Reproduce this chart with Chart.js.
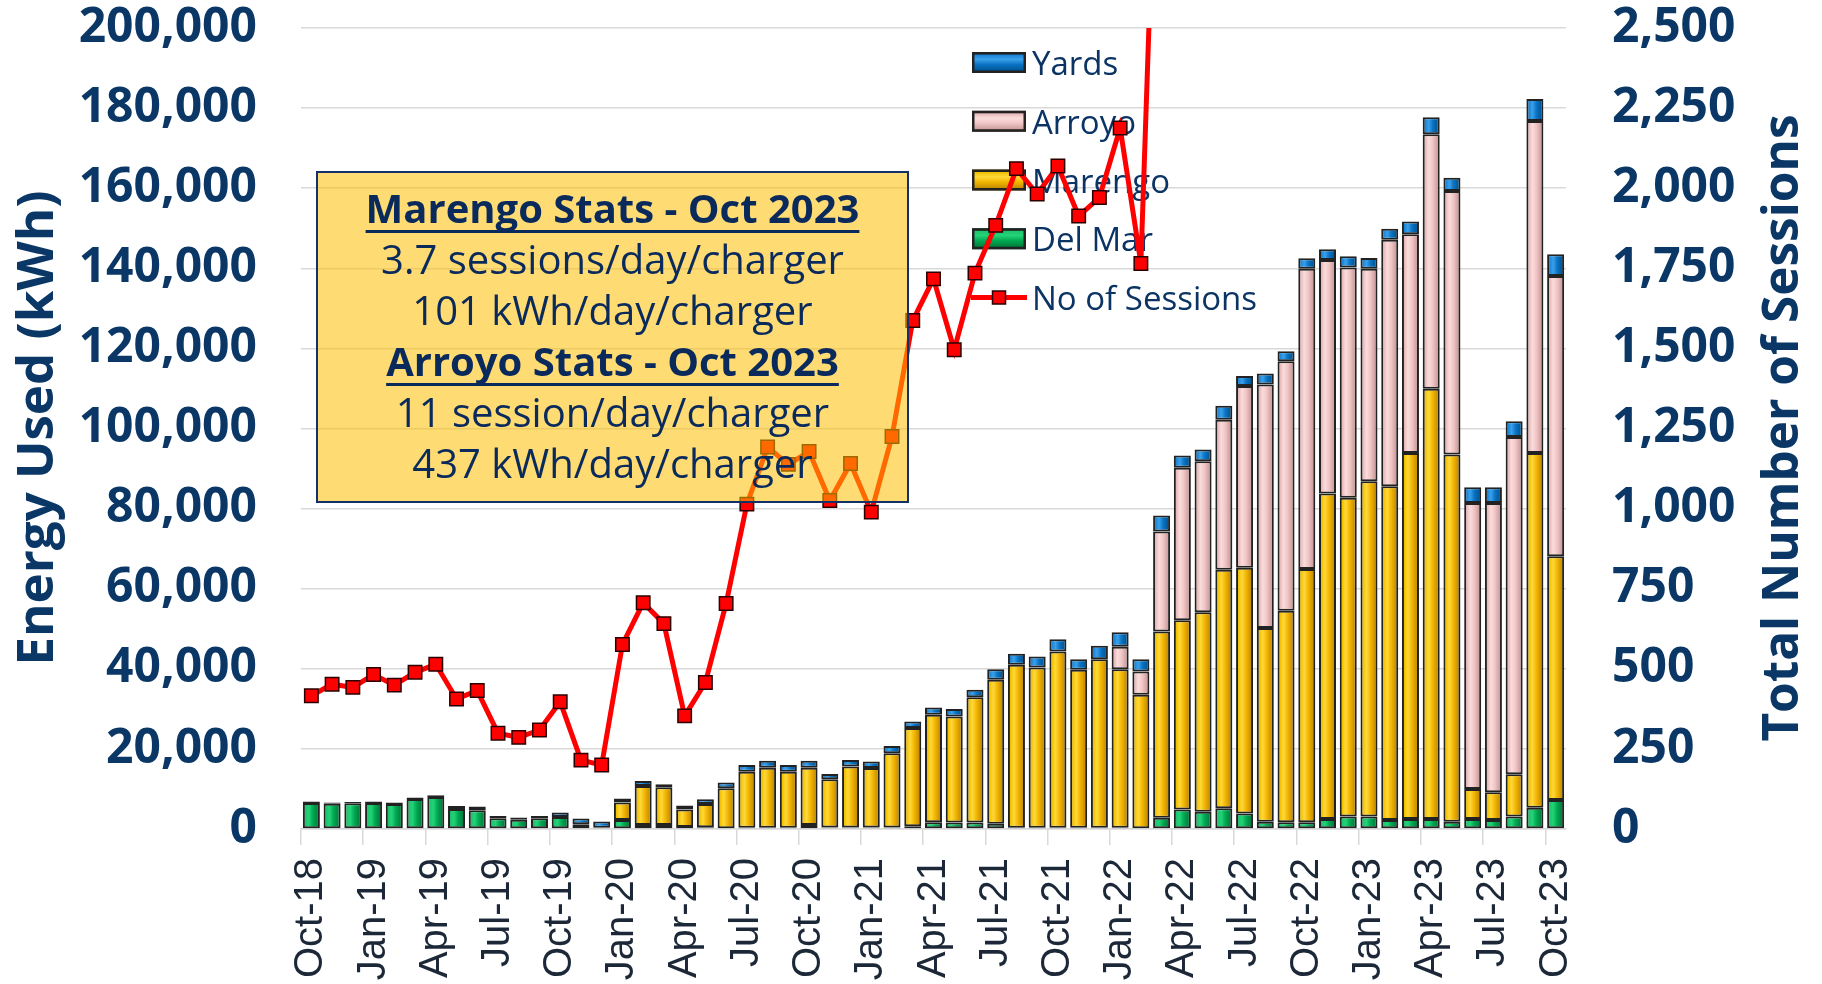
<!DOCTYPE html>
<html>
<head>
<meta charset="utf-8">
<script src="https://cdn.jsdelivr.net/npm/chart.js@4.4.1/dist/chart.umd.min.js"></script>
<style>
html,body{margin:0;padding:0;background:#ffffff;}
#wrap{position:relative;width:1822px;height:984px;}
</style>
</head>
<body>
<div id="wrap"><canvas id="c" width="1822" height="984"></canvas></div>
<script>
// ---------------- DATA ----------------
const months = [
  'Oct-18','Nov-18','Dec-18','Jan-19','Feb-19','Mar-19','Apr-19','May-19','Jun-19','Jul-19','Aug-19','Sep-19',
  'Oct-19','Nov-19','Dec-19','Jan-20','Feb-20','Mar-20','Apr-20','May-20','Jun-20','Jul-20','Aug-20','Sep-20',
  'Oct-20','Nov-20','Dec-20','Jan-21','Feb-21','Mar-21','Apr-21','May-21','Jun-21','Jul-21','Aug-21','Sep-21',
  'Oct-21','Nov-21','Dec-21','Jan-22','Feb-22','Mar-22','Apr-22','May-22','Jun-22','Jul-22','Aug-22','Sep-22',
  'Oct-22','Nov-22','Dec-22','Jan-23','Feb-23','Mar-23','Apr-23','May-23','Jun-23','Jul-23','Aug-23','Sep-23',
  'Oct-23'
];
const delMar = [
  6500,6300,6400,6500,6250,7500,8000,5000,4700,2700,2300,2700,
  3000,1200,300,2250,1000,1000,500,450,200,300,300,300,
  1000,400,400,400,400,700,1700,1600,1600,1300,300,300,
  300,300,300,300,200,2800,4900,4300,5200,3900,1800,1700,
  1700,2500,3100,3100,2250,2500,2500,1800,2500,2250,3100,5300,
  7250
];
const marengo = [
  0,0,0,0,0,0,0,0,0,0,0,0,
  0,0,0,4350,9750,9400,4400,5800,10000,14000,15000,14000,
  14300,12000,15200,14800,18500,24500,26800,26500,31300,35950,40700,40000,
  44000,39450,42100,39600,33300,46500,47200,49800,59550,61300,48400,52800,
  63200,81250,79600,83700,83350,91400,107400,91700,7500,6950,10600,88600,
  60850
];
const arroyo = [
  0,0,0,0,0,0,0,0,0,0,0,0,
  0,0,0,0,0,0,0,0,0,0,0,0,
  0,0,0,0,0,0,0,0,0,0,0,0,
  0,0,0,5600,5800,25000,38100,37700,37450,45400,60800,62300,
  75000,58350,57500,53100,61500,54600,63600,65800,71400,72200,84200,82900,
  70000
];
const yards = [
  350,300,350,350,350,350,400,750,900,550,600,550,
  1100,1400,1550,1000,1250,750,950,1150,1400,1650,1750,1650,
  1750,1350,1650,1650,1850,1650,1850,1850,1850,2650,2750,2750,
  3100,2650,3350,3600,3100,4000,3050,2950,3500,2500,2750,2500,
  2600,2650,2800,2700,2800,3200,4200,3300,3900,3900,3900,5450,
  5400
];
// sessions beyond Mar-22 run off the top of the chart and cannot be read
const sessions = [
  416,452,442,482,449,489,514,406,432,299,286,309,
  397,215,200,576,706,641,353,457,704,1014,1192,1138,
  1178,1025,1141,989,1225,1587,1717,1496,1735,1884,2061,1982,
  2069,1913,1971,2188,1765,3670,null,null,null,null,null,null,
  null,null,null,null,null,null,null,null,null,null,null,null,
  null
];
const energyTicks = [0,20000,40000,60000,80000,100000,120000,140000,160000,180000,200000];
const sessionTicks = [0,250,500,750,1000,1250,1500,1750,2000,2250,2500];
const leftTitle = 'Energy Used (kWh)';
const rightTitle = 'Total Number of Sessions';
const statsLines = [
  {text:'Marengo Stats - Oct 2023', bold:true},
  {text:'3.7 sessions/day/charger', bold:false},
  {text:'101 kWh/day/charger', bold:false},
  {text:'Arroyo Stats - Oct 2023', bold:true},
  {text:'11 session/day/charger', bold:false},
  {text:'437 kWh/day/charger', bold:false}
];

// ---------------- STYLE ----------------
const NAVY = '#0a3766';
const BAR_PCT = 0.82;
const palette = {
  'Del Mar': {base:'#00a651', stops:[[0,'#005c2d'],[0.15,'#1fc46c'],[0.35,'#22d377'],[0.6,'#00a651'],[0.85,'#008340'],[1,'#004f27']]},
  'Marengo': {base:'#f5b800', stops:[[0,'#8a6500'],[0.15,'#f2c200'],[0.35,'#ffd83a'],[0.6,'#f2b400'],[0.85,'#c99200'],[1,'#7a5800']]},
  'Arroyo':  {base:'#f0c3c3', stops:[[0,'#9e7777'],[0.15,'#e7b9b9'],[0.35,'#fbdcdc'],[0.6,'#f0c4c4'],[0.85,'#cfa1a1'],[1,'#8f6a6a']]},
  'Yards':   {base:'#0a72c2', stops:[[0,'#003a66'],[0.15,'#1a84d6'],[0.35,'#3aa0ea'],[0.6,'#0a72c2'],[0.85,'#005a9c'],[1,'#003259']]}
};

function bevel(label) {
  const p = palette[label];
  return (ctx) => {
    const chart = ctx.chart;
    const xs = chart.scales && chart.scales.x;
    if (!xs || ctx.dataIndex === undefined || !chart.chartArea) return p.base;
    const cx = xs.getPixelForValue(ctx.dataIndex);
    const w = xs.width / months.length * BAR_PCT;
    if (!isFinite(cx) || !isFinite(w)) return p.base;
    const g = chart.ctx.createLinearGradient(cx - w / 2, 0, cx + w / 2, 0);
    p.stops.forEach(([o, c]) => g.addColorStop(o, c));
    return g;
  };
}

function barSet(label, data) {
  return {
    type: 'bar', label, data, yAxisID: 'y', stack: 'energy', order: 1,
    backgroundColor: bevel(label), borderColor: '#222222', borderWidth: 2,
    borderSkipped: false, barPercentage: BAR_PCT, categoryPercentage: 1.0
  };
}

// ---------------- PLUGINS ----------------
function drawLegend(chart) {
  const ctx = chart.ctx;
  const ds = chart.data.datasets;
  const order = [3, 2, 1, 0, 4];
  ctx.save();
  ctx.font = '33px "Open Sans"';
  ctx.textAlign = 'left';
  ctx.textBaseline = 'alphabetic';
  order.forEach((di, k) => {
    const d = ds[di];
    const base = 75 + k * 58.75;
    const cy = base - 12.5;
    if (d.type === 'line') {
      ctx.strokeStyle = d.borderColor;
      ctx.lineWidth = d.borderWidth;
      ctx.beginPath(); ctx.moveTo(971, cy); ctx.lineTo(1027, cy); ctx.stroke();
      const s = 13;
      ctx.fillStyle = d.pointBackgroundColor;
      ctx.fillRect(999 - s / 2, cy - s / 2, s, s);
      ctx.strokeStyle = d.pointBorderColor; ctx.lineWidth = 1.5;
      ctx.strokeRect(999 - s / 2, cy - s / 2, s, s);
    } else {
      const p = palette[d.label];
      const g = ctx.createLinearGradient(0, cy - 10.5, 0, cy + 10.5);
      p.stops.forEach(([o, c]) => g.addColorStop(o, c));
      ctx.fillStyle = g;
      ctx.fillRect(972, cy - 10.5, 54, 21);
      ctx.strokeStyle = '#222222'; ctx.lineWidth = 2.5;
      ctx.strokeRect(973.25, cy - 9.25, 51.5, 18.5);
    }
    ctx.fillStyle = '#0b3464';
    ctx.fillText(d.label, 1032, base);
  });
  ctx.restore();
}

function drawTitles(chart) {
  const ctx = chart.ctx;
  ctx.save();
  ctx.fillStyle = NAVY;
  ctx.textAlign = 'center';
  ctx.textBaseline = 'alphabetic';
  ctx.font = 'bold 51px "Open Sans"';
  ctx.save(); ctx.translate(53, 428); ctx.rotate(-Math.PI / 2); ctx.fillText(leftTitle, 0, 0); ctx.restore();
  ctx.font = 'bold 49.5px "Open Sans"';
  ctx.save(); ctx.translate(1798, 428); ctx.rotate(-Math.PI / 2); ctx.fillText(rightTitle, 0, 0); ctx.restore();
  ctx.restore();
}

function drawStatsBox(chart) {
  const ctx = chart.ctx;
  const L = 317, T = 172, R = 908, B = 502;
  ctx.save();
  ctx.fillStyle = 'rgba(255,192,0,0.55)';
  ctx.fillRect(L, T, R - L, B - T);
  ctx.strokeStyle = '#14306a'; ctx.lineWidth = 2;
  ctx.strokeRect(L, T, R - L, B - T);
  ctx.fillStyle = '#0a2a5c';
  ctx.textAlign = 'center';
  ctx.textBaseline = 'alphabetic';
  const cx = (L + R) / 2;
  statsLines.forEach((ln, k) => {
    const y = 223 + k * 51;
    ctx.font = (ln.bold ? 'bold ' : '') + '40px "Open Sans"';
    ctx.fillText(ln.text, cx, y);
    if (ln.bold) {
      const w = ctx.measureText(ln.text).width;
      ctx.fillRect(cx - w / 2, y + 7, w, 3);
    }
  });
  ctx.restore();
}

const overlayPlugin = {
  id: 'overlay',
  beforeDatasetsDraw(chart) { drawLegend(chart); },
  afterDraw(chart) { drawTitles(chart); drawStatsBox(chart); }
};

function fixWidth(w) {
  return (s) => { s.width = w; s.paddingTop = 0; s.paddingBottom = 0; };
}

// ---------------- CHART ----------------
const chart = new Chart(document.getElementById('c'), {
  type: 'bar',
  data: {
    labels: months,
    datasets: [
      barSet('Del Mar', delMar),
      barSet('Marengo', marengo),
      barSet('Arroyo', arroyo),
      barSet('Yards', yards),
      {
        type: 'line', label: 'No of Sessions', data: sessions, yAxisID: 'y2', order: 0,
        borderColor: '#ff0000', borderWidth: 5, tension: 0, spanGaps: false,
        pointStyle: 'rect', pointRadius: 9.5, pointBackgroundColor: '#ff0000',
        pointBorderColor: '#2a0000', pointBorderWidth: 1.5
      }
    ]
  },
  options: {
    responsive: false,
    devicePixelRatio: 1,
    animation: false,
    events: [],
    layout: { padding: { top: 28, left: 0, right: 0, bottom: 0 } },
    plugins: { legend: { display: false }, tooltip: { enabled: false } },
    scales: {
      x: {
        stacked: true,
        offset: true,
        grid: {
          offset: true, drawOnChartArea: false, drawTicks: true, tickLength: 16, lineWidth: 1.5,
          color: (c) => (c.index !== undefined && c.index % 3 === 0) ? '#d9d9d9' : 'rgba(0,0,0,0)'
        },
        border: { display: true, color: '#d9d9d9', width: 1.5 },
        ticks: {
          autoSkip: false, maxRotation: 90, minRotation: 90, padding: 13,
          font: { family: 'Liberation Sans', size: 40 }, color: '#1c2838',
          callback: (v, i) => (i % 3 === 0 ? months[i] : '')
        },
        afterFit: (s) => { s.height = 155; s.paddingLeft = 0; s.paddingRight = 0; }
      },
      y: {
        stacked: true, position: 'left', min: 0, max: 200000,
        afterBuildTicks: (s) => { s.ticks = energyTicks.map(v => ({ value: v })); },
        grid: { color: '#d9d9d9', lineWidth: 1.5, drawTicks: false },
        border: { display: false },
        ticks: {
          padding: 44, color: NAVY,
          font: { family: 'Open Sans', size: 48, weight: 'bold', lineHeight: 1 },
          callback: (v) => Number(v).toLocaleString('en-US')
        },
        afterFit: fixWidth(301)
      },
      y2: {
        position: 'right', min: 0, max: 2500,
        afterBuildTicks: (s) => { s.ticks = sessionTicks.map(v => ({ value: v })); },
        grid: { drawOnChartArea: false, drawTicks: false },
        border: { display: false },
        ticks: {
          padding: 46, color: NAVY,
          font: { family: 'Open Sans', size: 48, weight: 'bold', lineHeight: 1 },
          callback: (v) => Number(v).toLocaleString('en-US')
        },
        afterFit: fixWidth(256)
      }
    }
  },
  plugins: [overlayPlugin]
});
</script>
</body>
</html>
